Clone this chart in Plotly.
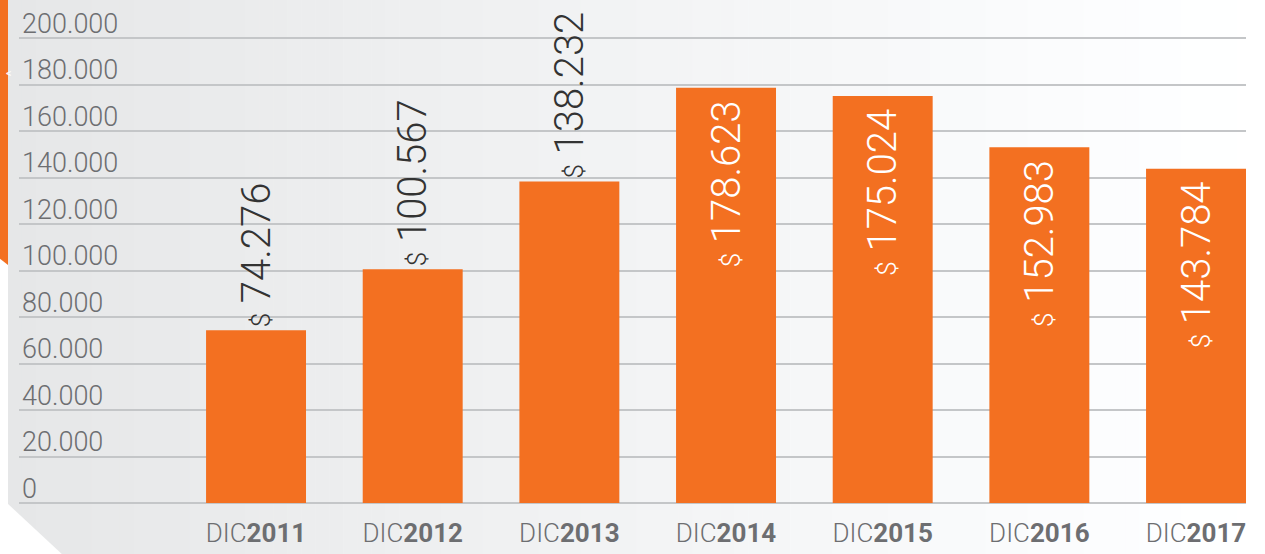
import plotly.graph_objects as go

# ---- data ----
categories = ["2011", "2012", "2013", "2014", "2015", "2016", "2017"]
values = [74276, 100567, 138232, 178623, 175024, 152983, 143784]
tick_labels = ["DIC<b>%s</b>" % c for c in categories]
y_ticks = [0, 20000, 40000, 60000, 80000, 100000, 120000, 140000, 160000, 180000, 200000]
label_positions = ["outside", "outside", "outside", "inside", "inside", "inside", "inside"]

ORANGE = "#f37021"
GRAY_TXT = "#6d6e71"
GRID = "#c4c6c8"
FONT = "Roboto"

W, H = 1265, 554
L, R, T, B = 19, 19, 0, 41
PW, PH = W - L - R, H - T - B
ZERO_PX = 503          # pixel row of the 0 line
K = 465 / 200000.0     # pixels per unit
Y_MIN = -(H - B - ZERO_PX) / K
Y_MAX = (ZERO_PX - T) / K


def px(x):
    return (x - L) / PW


def py(y):
    return (H - B - y) / PH


def money(v, pos):
    s = "<span style='font-size:26px'>$</span> " + f"{v:,}".replace(",", ".")
    if pos == "inside":
        s += "&nbsp;"
    return s


labels = [money(v, p) for v, p in zip(values, label_positions)]

fig = go.Figure()
fig.add_trace(go.Bar(
    x=categories,
    y=values,
    marker=dict(color=ORANGE, line=dict(width=0)),
    text=labels,
    texttemplate="%{text}",
    textposition=label_positions,
    textangle=-90,
    insidetextanchor="end",
    constraintext="none",
    insidetextfont=dict(family=FONT, size=40, color="white", weight=300),
    outsidetextfont=dict(family=FONT, size=40, color="#333333", weight=300),
    cliponaxis=False,
    hoverinfo="skip",
))

shapes = []
# gradient background panel (light gray -> white)
n = 90
x0, x1 = 8, W
for i in range(n):
    a = x0 + (x1 - x0) * i / n
    b = x0 + (x1 - x0) * (i + 1) / n + 0.5
    t = i / (n - 1)
    c = int(round(230 + (255 - 230) * t))
    col = f"rgb({c},{min(c+1,255)},{min(c+2,255)})"
    shapes.append(dict(type="rect", xref="paper", yref="paper", layer="below",
                       x0=px(a), x1=px(b), y0=py(H), y1=py(0),
                       fillcolor=col, line=dict(width=0)))
# white diagonal cut bottom-left
shapes.append(dict(type="path", xref="paper", yref="paper", layer="below",
                   path=f"M {px(7)} {py(503)} L {px(7)} {py(H+2)} L {px(64)} {py(H+2)} Z",
                   fillcolor="white", line=dict(width=0)))
# orange strip at left
shapes.append(dict(type="path", xref="paper", yref="paper", layer="below",
                   path=f"M {px(-1)} {py(-1)} L {px(8)} {py(-1)} L {px(8)} {py(265)} L {px(-1)} {py(258)} Z",
                   fillcolor=ORANGE, line=dict(width=0)))

annotations = [dict(text="&lt;", x=px(3.5), y=py(65), xref="paper", yref="paper",
                    showarrow=False, font=dict(family=FONT, size=11, color="white"))]

fig.update_layout(
    width=W, height=H,
    margin=dict(l=L, r=R, t=T, b=B, pad=0),
    paper_bgcolor="white",
    plot_bgcolor="rgba(0,0,0,0)",
    separators=",.",
    showlegend=False,
    bargap=0.362,
    shapes=shapes,
    annotations=annotations,
    font=dict(family=FONT),
    xaxis=dict(
        type="category",
        range=[-1.513, 6.319],
        tickvals=categories,
        ticktext=tick_labels,
        showgrid=False, zeroline=False, showline=False,
        ticks="", ticklabelstandoff=2,
        tickfont=dict(family=FONT, size=26, color=GRAY_TXT, weight=300),
        fixedrange=True,
    ),
    yaxis=dict(
        range=[Y_MIN, Y_MAX],
        tickvals=y_ticks,
        tickformat=",d",
        ticklabelposition="inside top",
        ticklabelshift=4,
        ticklabelstandoff=0,
        showgrid=True, gridcolor=GRID, gridwidth=2,
        zeroline=True, zerolinecolor=GRID, zerolinewidth=2,
        showline=False, ticks="",
        tickfont=dict(family=FONT, size=27, color=GRAY_TXT, weight=300),
        fixedrange=True,
    ),
)

fig.write_html(
    "out.html",
    config={"displayModeBar": False},
    post_script="document.body.style.margin='0';document.body.style.overflow='hidden';",
)
